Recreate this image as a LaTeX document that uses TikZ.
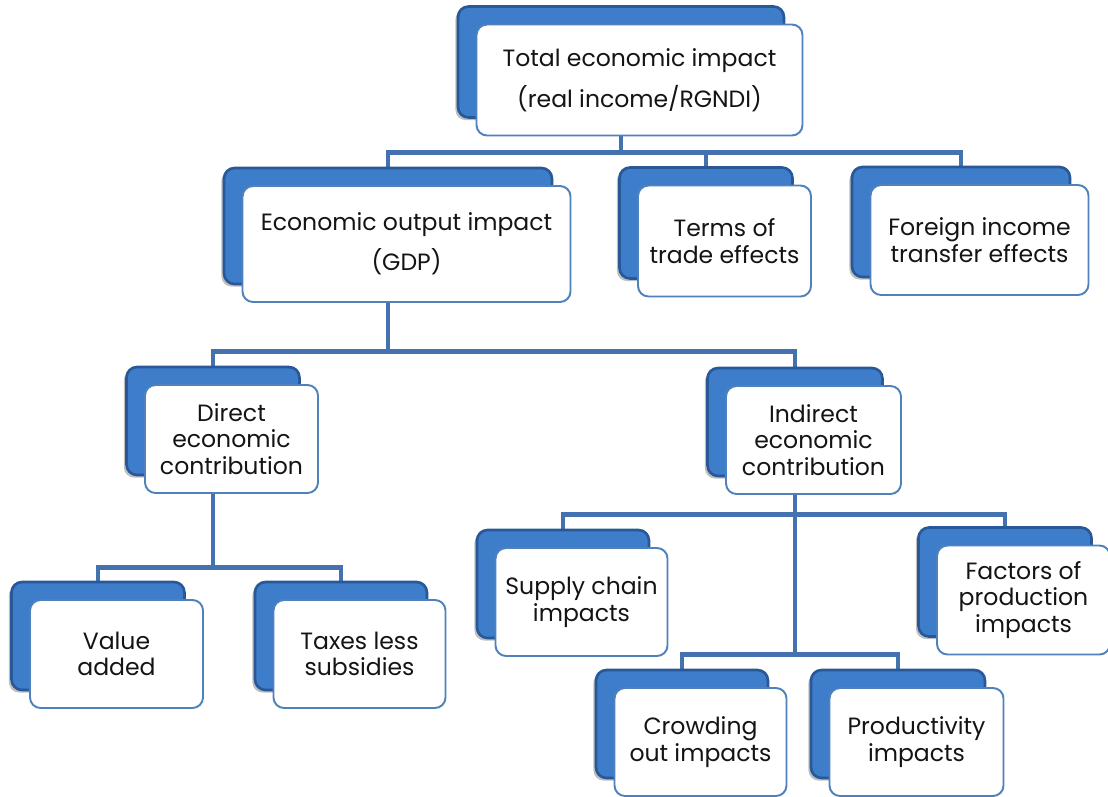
\documentclass[tikz,border=0pt]{standalone}
\usepackage{fontspec}
\setmainfont{Poppins}
\usetikzlibrary{positioning, backgrounds, calc, shadows}
\definecolor{backrim}{RGB}{40,88,152}
\definecolor{backfill}{RGB}{61,125,202}
\definecolor{frontrim}{RGB}{79,129,189}
\definecolor{linkblue}{RGB}{68,114,176}
\definecolor{boxtext}{RGB}{20,20,20}

\begin{document}
\begin{tikzpicture}[x=0.02cm, y=-0.02cm,
    back/.style={draw=backrim, line width=1.5pt, fill=backfill, rounded corners=6pt, inner sep=0pt,
        drop shadow={shadow xshift=-1.5pt, shadow yshift=-1.5pt, fill=black, opacity=0.25}},
    front/.style={draw=frontrim, line width=1.1pt, fill=white, rounded corners=6pt, inner sep=0pt, align=center,
        font=\fontsize{13.4}{15}\selectfont, text=boxtext},
    link/.style={draw=linkblue, line width=2.8pt}]

    \useasboundingbox (0,0) rectangle (1108,796);

    % boxes: name / centre x / centre y / width / height / text
    \foreach \n/\x/\y/\w/\h/\t in {
        total/621/62/326/111/{Total economic impact\\[6pt](real income/RGNDI)},
        gdp/388/226/328/116/{Economic output impact\\[6pt](GDP)},
        terms/706/223/173/111/{Terms of\\trade effects},
        foreign/961/222/218/110/{Foreign income\\transfer effects},
        direct/213/421/173/108/{Direct\\economic\\contribution},
        indirect/795/422/175/108/{Indirect\\economic\\contribution},
        value/98/636/173/108/{Value\\added},
        taxes/341/636/172/108/{Taxes less\\subsidies},
        supply/563/584/172/108/{Supply chain\\impacts},
        factors/1005/582/173/109/{Factors of\\production\\impacts},
        crowding/682/724/172/108/{Crowding\\out impacts},
        productivity/898/724/174/108/{Productivity\\impacts}}{
        \node[back, minimum width=\w*0.02cm, minimum height=\h*0.02cm] (\n-b) at (\x,\y) {};
        \node[front, minimum width=\w*0.02cm, minimum height=\h*0.02cm] (\n) at (\x+18.5,\y+18) {\t};
    }

    % connectors behind the boxes
    \begin{scope}[on background layer]
        \draw[link] (total-b.south) -- ++(0,34) -| (gdp-b.north);
        \draw[link] (total-b.south) -- ++(0,34) -| (terms-b.north);
        \draw[link] (total-b.south) -- ++(0,34) -| (foreign-b.north);
        \draw[link] (gdp-b.south) -- ++(0,66) -| (direct-b.north);
        \draw[link] (gdp-b.south) -- ++(0,66) -| (indirect-b.north);
        \draw[link] (direct-b.south) -- ++(0,91) -| (value-b.north);
        \draw[link] (direct-b.south) -- ++(0,91) -| (taxes-b.north);
        \draw[link] (indirect-b.south) -- ++(0,37) -| (supply-b.north);
        \draw[link] (indirect-b.south) -- ++(0,37) -| (factors-b.north);
        \draw[link] (indirect-b.south) -- ++(0,177) -| (crowding-b.north);
        \draw[link] (indirect-b.south) -- ++(0,177) -| (productivity-b.north);
    \end{scope}
\end{tikzpicture}
\end{document}
